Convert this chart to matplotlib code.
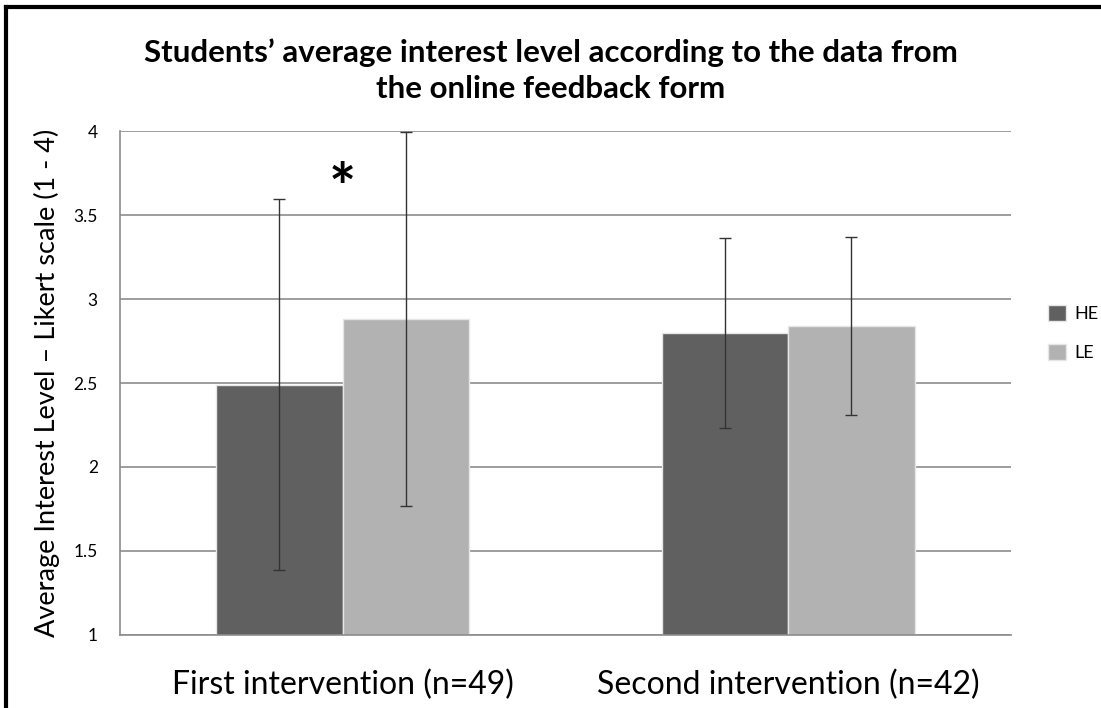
import numpy as np
import matplotlib.pyplot as plt
from matplotlib.lines import Line2D

categories = ['First intervention (n=49)', 'Second intervention (n=42)']
series = ['HE', 'LE']
he_mean = [2.49, 2.80]
le_mean = [2.88, 2.84]
he_err = [1.105, 0.567]
le_err = [1.115, 0.53]
yticks = [1, 1.5, 2, 2.5, 3, 3.5, 4]
ytick_labels = ['1', '1.5', '2', '2.5', '3', '3.5', '4']

plt.rcParams['font.family'] = ['Lato', 'DejaVu Sans']

fig = plt.figure(figsize=(11.01, 7.08), dpi=100)
ax = fig.add_axes([0.109, 0.1034, 0.809, 0.711])

x = np.arange(len(categories))
w = 0.284
err_style = dict(ecolor='#333333', elinewidth=1, capsize=4, capthick=1)
ax.bar(x - w / 2, he_mean, w, bottom=0, color='#606060', edgecolor='#e6e6e6',
       linewidth=1, label=series[0], yerr=he_err, error_kw=err_style, zorder=2)
ax.bar(x + w / 2, le_mean, w, bottom=0, color='#b2b2b2', edgecolor='#e6e6e6',
       linewidth=1, label=series[1], yerr=le_err, error_kw=err_style, zorder=2)

# significance mark on the first intervention
ax.text(x[0], 3.64, '*', fontsize=46, fontweight='bold', ha='center', va='center')

ax.set_xlim(-0.5, 1.5)
ax.set_ylim(1, 4)
ax.set_yticks(yticks)
ax.set_yticklabels(ytick_labels, fontsize=12.5)
ax.set_xticks(x)
ax.set_xticklabels(categories, fontsize=23)
ax.tick_params(axis='both', length=0)
ax.tick_params(axis='y', pad=16)
ax.tick_params(axis='x', pad=25)
ax.yaxis.grid(True, color='#8c8c8c', linewidth=1.2, zorder=0)
ax.set_axisbelow(True)
for s in ['top', 'right']:
    ax.spines[s].set_visible(False)
ax.spines['left'].set_color('#8c8c8c')
ax.spines['bottom'].set_color('#8c8c8c')
ax.spines['left'].set_linewidth(1.2)
ax.spines['bottom'].set_linewidth(1.2)

ax.set_ylabel('Average Interest Level \u2013 Likert scale (1 - 4)', fontsize=19.5, labelpad=10)

fig.text(0.5, 0.9, "Students\u2019 average interest level according to the data from\nthe online feedback form",
         ha='center', va='center', fontsize=22.5, fontweight='bold', linespacing=1.35)

fig.legend(loc='center left', bbox_to_anchor=(0.952, 0.53), frameon=False, fontsize=13,
           handlelength=1.0, handleheight=1.0, handletextpad=0.45, labelspacing=1.2,
           borderpad=0, borderaxespad=0)

# outer frame (left and top edges)
fig.add_artist(Line2D([0.005, 0.005], [0, 0.99], transform=fig.transFigure, color='black', linewidth=3))
fig.add_artist(Line2D([0.005, 1.0], [0.99, 0.99], transform=fig.transFigure, color='black', linewidth=3))

plt.savefig('out.png', dpi=100)
